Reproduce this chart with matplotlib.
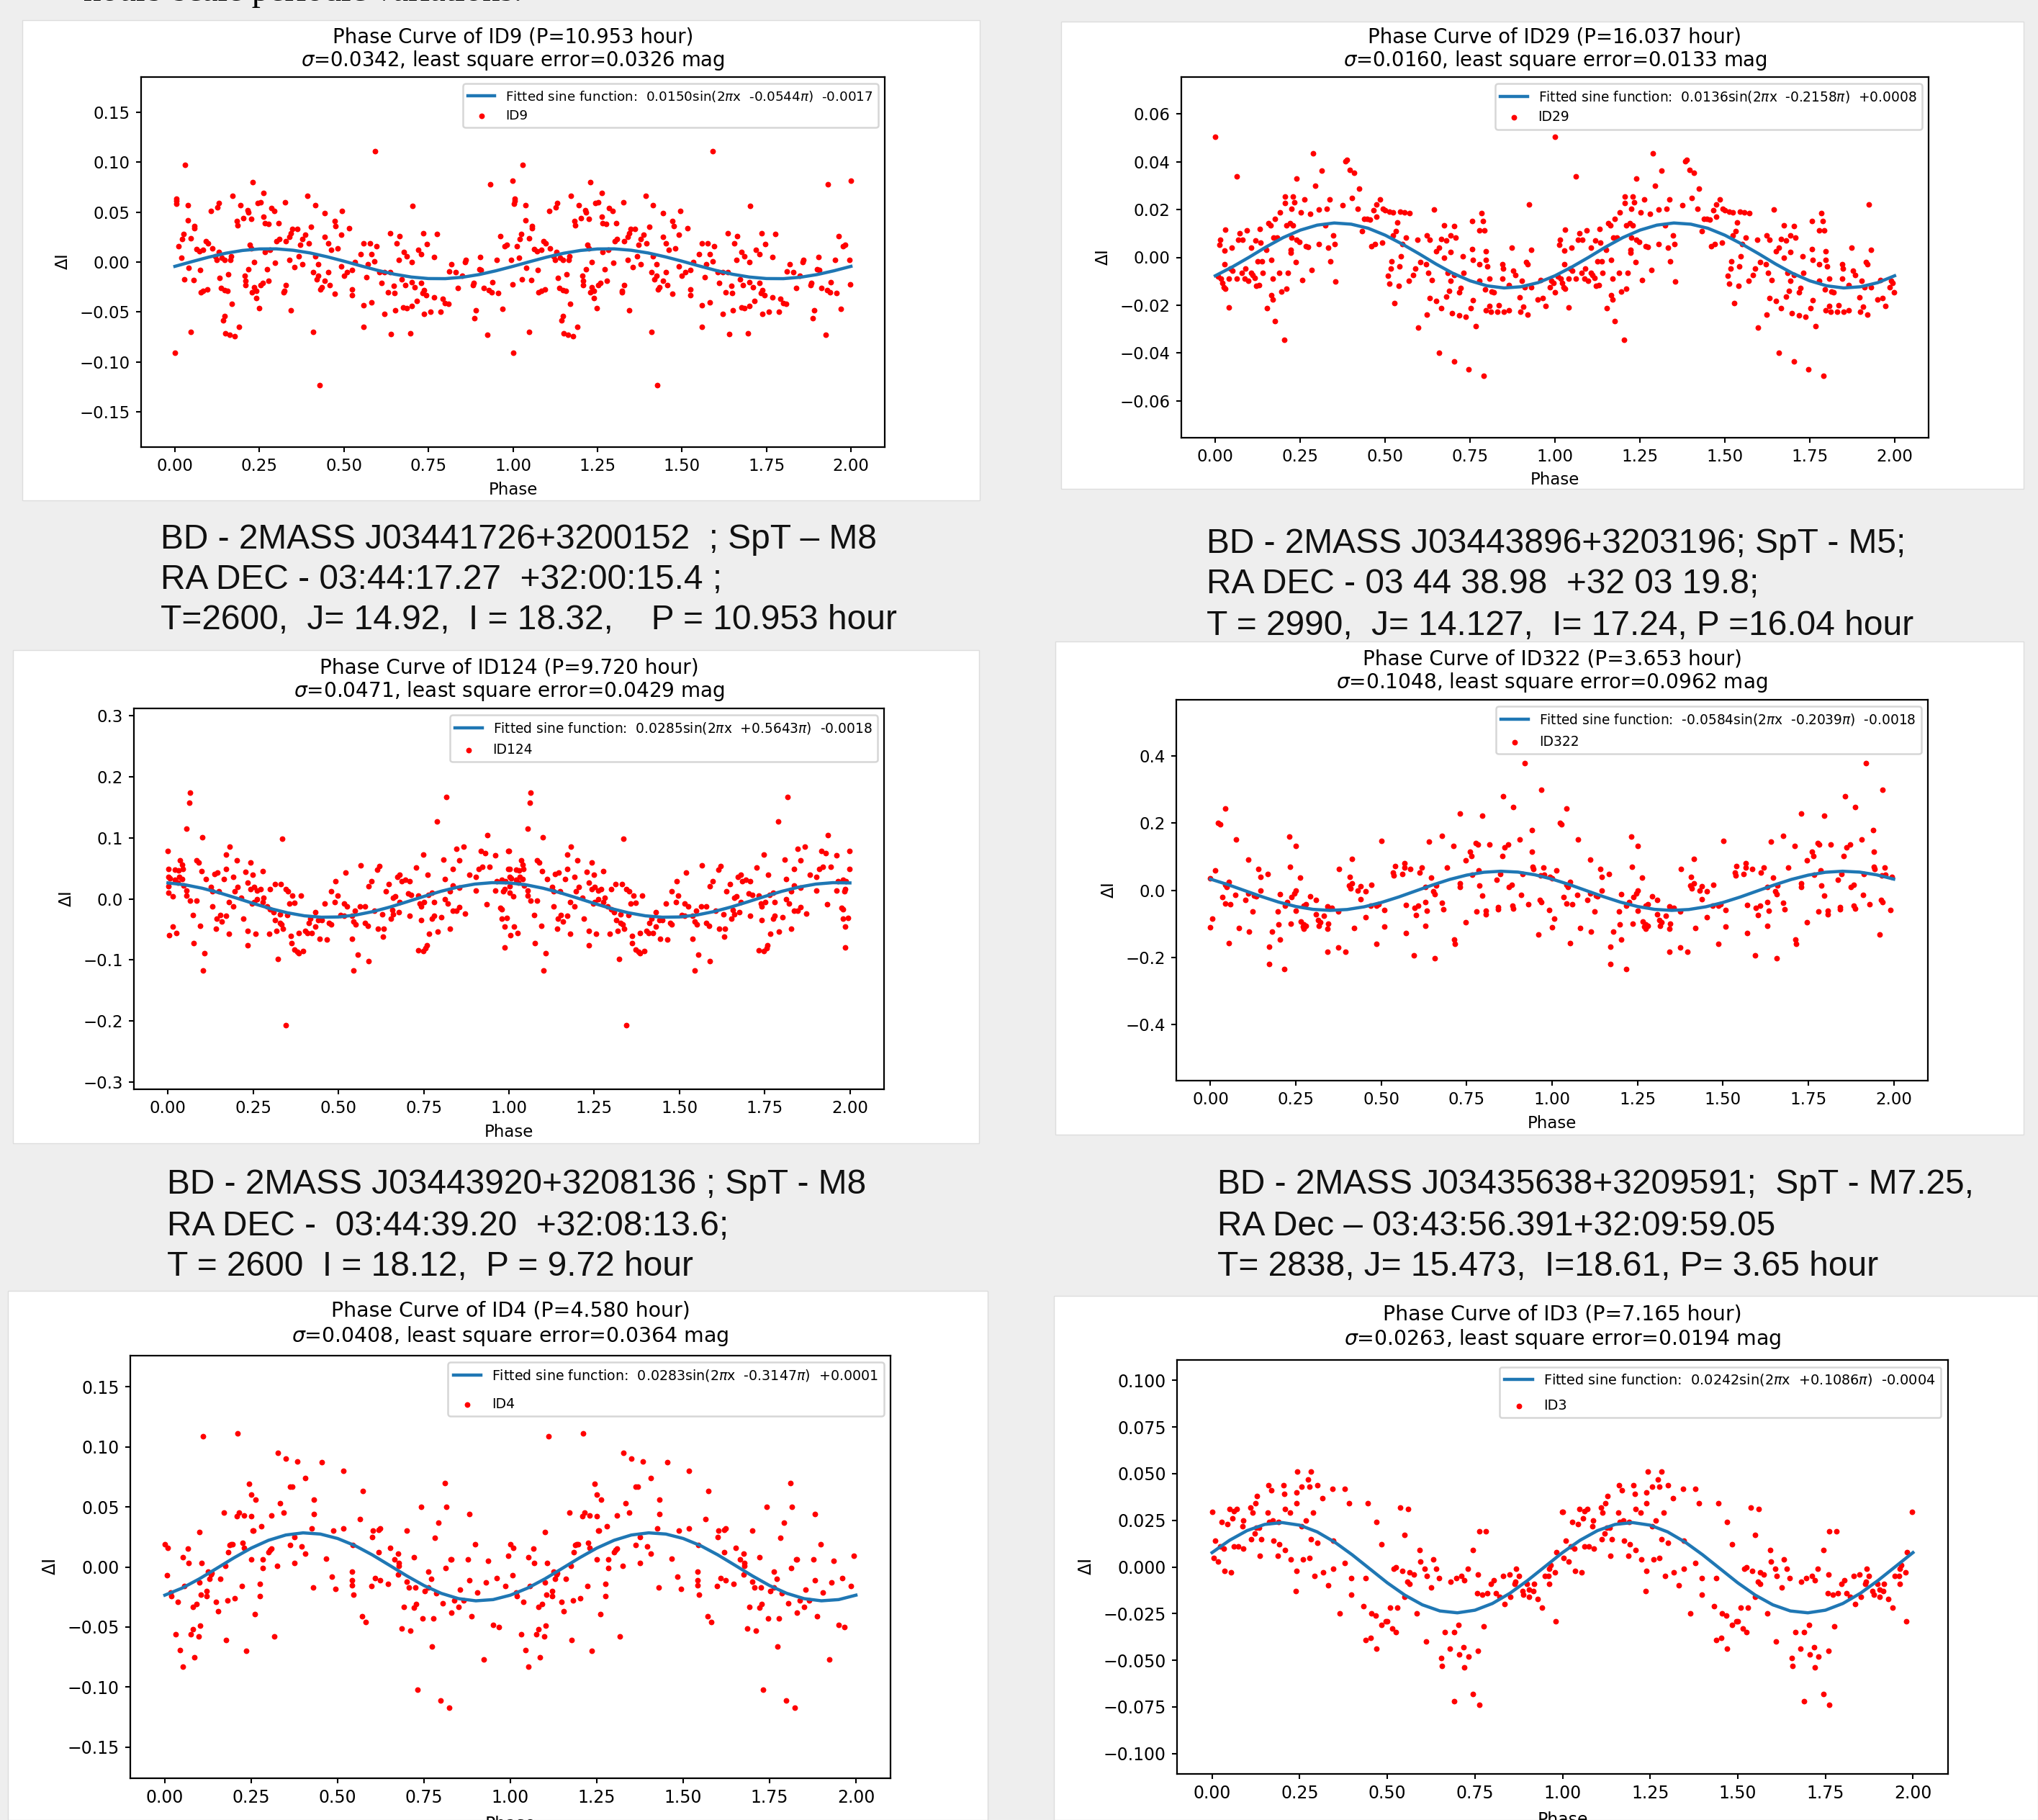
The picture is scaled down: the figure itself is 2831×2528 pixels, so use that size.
import numpy as np
import matplotlib
matplotlib.use('Agg')
import matplotlib.pyplot as plt
from matplotlib.patches import Rectangle

W, H = 2831, 2528

# points, one cycle only: (phase, delta I)
id9_points = [(0.0,-.091),(.005,.063),(.005,.061),(.004,.058),(.029,.097),(.038,.057),(.038,.042),(.057,.036),(.057,.034),(.025,.028),(.021,.023),(.048,.024),(.011,.016),(.063,.013),(.072,.011),(.084,.012),(.091,.021),(.097,.019),(.019,.004),(.040,-.006),(.027,-.017),(.055,-.018),(.074,-.008),(.076,-.030),(.084,-.029),(.095,-.027),(.048,-.070),(.107,.051),(.126,.055),(.131,.059),(.110,.014),(.129,.010),(.120,.006),(.124,.002),(.139,.004),(.148,.002),(.133,-.016),(.137,-.026),(.148,-.028),(.156,-.029),(.158,-.012),(.167,.006),(.164,.002),(.169,-.042),(.147,-.054),(.143,-.058),(.150,-.071),(.162,-.073),(.177,-.074),(.190,-.065),(.171,.066),(.194,.057),(.183,.041),(.185,.037),(.202,.044),(.215,.052),(.217,.050),(.225,.043),(.230,.080),(.221,.017),(.225,.014),(.206,-.014),(.208,-.019),(.208,-.023),(.217,-.007),(.234,0.0),(.234,-.025),(.240,-.029),(.228,-.030),(.240,-.036),(.249,-.046),(.253,-.023),(.259,-.021),(.278,-.019),(.263,.069),(.244,.059),(.253,.060),(.263,.045),(.266,.039),(.276,.038),(.285,.054),(.295,.051),(.266,.010),(.282,.012),(.272,-.007),(.297,-.001),(.301,.021),(.306,.039),(.308,.023),(.327,.060),(.323,-.029),(.322,-.030),(.329,-.023),(.343,-.048),(.329,.021),(.339,.025),(.343,.029),(.348,.033),(.362,.033),(.339,.002),(.354,-.005),(.367,.006),(.377,-.002),(.371,.017),(.377,.023),(.386,.027),(.396,.019),(.392,.066),(.403,.035),(.415,.057),(.443,.049),(.409,-.070),(.428,-.123),(.415,.006),(.424,-.002),(.409,-.010),(.424,-.014),(.419,-.017),(.434,-.025),(.443,-.019),(.430,-.027),(.453,-.010),(.457,-.023),(.443,.025),(.453,.019),(.462,.012),(.481,.014),(.472,.041),(.476,.036),(.495,.051),(.491,.027),(.516,.034),(.472,-.032),(.491,-.004),(.500,-.014),(.510,-.010),(.525,-.008),(.533,0.0),(.525,-.027),(.525,-.033),(.567,-.015),(.558,-.043),(.582,-.040),(.558,-.065),(.550,.008),(.559,.019),(.577,.019),(.582,.008),(.571,-.002),(.596,.016),(.590,.001),(.592,.111),(.605,-.010),(.620,-.010),(.636,-.010),(.611,-.021),(.630,-.030),(.649,-.031),(.647,-.024),(.620,-.052),(.639,-.072),(.651,-.048),(.636,.029),(.664,.026),(.655,.019),(.662,.002),(.677,.010),(.685,.006),(.700,0.0),(.672,-.017),(.681,-.023),(.676,-.045),(.685,-.046),(.700,-.044),(.715,-.039),(.700,-.020),(.710,-.025),(.729,-.021),(.738,-.028),(.696,-.071),(.702,.056),(.719,.012),(.729,.008),(.735,.029),(.746,.018),(.776,.028),(.767,.005),(.733,-.031),(.744,-.033),(.738,-.052),(.757,-.050),(.767,-.035),(.792,-.037),(.799,-.041),(.809,-.042),(.786,-.050),(.811,-.009),(.830,-.010),(.818,-.002),(.849,-.014),(.837,-.026),(.860,.002),(.858,0.0),(.881,-.023),(.883,-.021),(.900,-.007),(.906,-.008),(.904,.005),(.891,-.048),(.887,-.056),(.913,-.026),(.929,-.028),(.938,-.030),(.957,-.031),(.940,-.020),(.953,.002),(.932,.078),(.925,-.073),(.970,-.047),(.963,.026),(.976,.016),(.982,.017),(.995,.002),(.999,.081),(.998,-.022)]

id29_points = [(0.0,.0504),(.008,-.008),(.015,.0074),(.013,.0054),(.017,-.009),(.021,-.0107),(.025,-.0125),(.030,-.013),(.040,-.021),(.030,.0116),(.027,.0028),(.027,-.003),(.049,.004),(.0625,.0338),(.044,-.0047),(.051,-.0055),(.040,-.009),(.0625,-.009),(.068,.0074),(.072,.010),(.081,.0074),(.093,.0113),(.078,-.0064),(.089,-.0047),(.087,-.009),(.097,-.0099),(.106,-.0064),(.110,-.0073),(.116,-.0085),(.106,.004),(.119,.0071),(.131,.0118),(.134,.0061),(.121,-.012),(.129,-.0116),(.140,-.0064),(.125,-.0016),(.138,-.0016),(.150,.0031),(.157,.0144),(.163,.0135),(.176,.0161),(.172,.0083),(.182,.0083),(.153,-.0211),(.165,-.0159),(.169,-.0177),(.176,-.0268),(.169,-.009),(.165,-.0012),(.203,-.0346),(.195,-.0142),(.210,-.013),(.188,-.0064),(.214,-.0064),(.191,.0187),(.206,.0256),(.206,.0227),(.229,.0256),(.233,.023),(.225,.0204),(.210,.0135),(.220,.0144),(.229,.0135),(.225,.0083),(.239,.0074),(.248,.0066),(.222,.0031),(.223,.0019),(.237,-.0021),(.239,.0331),(.252,.0187),(.263,.0242),(.280,.0182),(.267,.0048),(.273,.0045),(.256,-.0095),(.284,-.0054),(.288,.0435),(.295,.030),(.305,.0057),(.305,.0199),(.314,.0364),(.328,.0204),(.337,.0244),(.324,.0135),(.333,.004),(.339,-.0017),(.352,.0057),(.347,.0092),(.354,-.0102),(.375,.0218),(.383,.0403),(.388,.0407),(.396,.0365),(.409,.0355),(.403,.0248),(.424,.0287),(.419,.0204),(.432,.0109),(.438,.0161),(.447,.0161),(.456,.0158),(.460,.0048),(.470,.0057),(.491,.0062),(.466,.0196),(.475,.0222),(.485,.0244),(.475,.017),(.494,.0204),(.5,.0196),(.513,.019),(.523,.0187),(.545,.019),(.557,.0187),(.572,.0184),(.508,-.0076),(.517,-.0047),(.513,-.0111),(.540,-.0118),(.528,-.019),(.519,-.0016),(.542,-.0038),(.547,.0005),(.523,.0092),(.536,.0147),(.532,.0109),(.561,.0083),(.551,.0057),(.570,-.0099),(.583,-.0073),(.589,-.0047),(.598,-.0293),(.595,.0074),(.604,-.0021),(.623,-.0241),(.631,-.0171),(.650,-.0182),(.665,-.0211),(.623,.0092),(.631,.0074),(.644,.0201),(.621,-.003),(.627,-.0064),(.638,-.0094),(.650,.0026),(.659,.004),(.665,.0078),(.674,.0135),(.680,.0071),(.659,-.0398),(.703,-.0436),(.746,-.0468),(.790,-.0497),(.693,.0092),(.703,.013),(.708,.0083),(.674,-.0003),(.693,.0022),(.684,-.0064),(.693,-.0099),(.703,-.0073),(.689,-.0139),(.680,-.0165),(.697,-.0234),(.718,-.0242),(.729,.0005),(.722,-.0128),(.718,-.0147),(.731,-.0064),(.737,-.0249),(.752,-.0211),(.759,-.018),(.767,-.0289),(.756,.0152),(.784,.0184),(.788,.0152),(.778,.0113),(.792,.0113),(.756,.0035),(.759,-.0012),(.778,-.003),(.797,.0026),(.797,-.0012),(.801,-.0038),(.778,-.0099),(.807,-.009),(.794,-.0133),(.813,-.0142),(.820,-.0147),(.807,-.0203),(.797,-.0223),(.811,-.0229),(.830,-.0229),(.835,-.0199),(.850,-.0229),(.864,-.0223),(.845,-.003),(.848,-.0047),(.873,.004),(.883,-.0073),(.877,-.0055),(.864,-.0116),(.845,-.009),(.896,-.0168),(.898,-.0229),(.907,-.0206),(.920,-.0241),(.920,-.003),(.930,.0031),(.915,-.0021),(.924,.0222),(.902,-.0099),(.911,-.0125),(.930,-.0125),(.949,-.0177),(.964,-.0171),(.973,-.0203),(.958,-.0095),(.985,-.0125),(.990,-.0099),(.995,-.0107),(.999,-.0147)]

id124_points = [(0.0,.078),(.002,.049),(.002,.036),(.006,.034),(.002,.021),(.002,.010),(.013,.004),(.004,-.060),(.015,-.046),(.025,-.056),(.064,.174),(.062,.157),(.055,.115),(.100,.101),(.021,.048),(.021,.031),(.030,.047),(.028,.026),(.036,.063),(.041,.056),(.043,.049),(.041,.032),(.032,.036),(.045,.022),(.055,.014),(.055,.005),(.064,-.003),(.083,-.003),(.073,-.026),(.083,.063),(.089,.060),(.098,.046),(.111,.033),(.126,.019),(.130,.012),(.130,-.012),(.075,-.073),(.094,-.044),(.107,-.089),(.102,-.117),(.145,.043),(.136,.041),(.164,.033),(.149,.012),(.171,.049),(.171,.072),(.181,.086),(.201,.063),(.192,.036),(.153,-.027),(.143,-.032),(.158,-.037),(.141,-.049),(.171,-.028),(.179,-.057),(.179,-.005),(.192,-.012),(.196,.012),(.205,.019),(.215,.002),(.220,-.032),(.228,.044),(.243,.059),(.249,.039),(.277,.045),(.234,.026),(.243,.016),(.252,.019),(.262,.014),(.271,.016),(.234,-.052),(.234,-.076),(.256,-.057),(.296,-.057),(.318,-.052),(.322,-.098),(.252,-.005),(.262,-.001),(.277,-.005),(.290,-.012),(.299,-.017),(.309,-.022),(.281,.002),(.247,-.008),(.299,.016),(.313,.024),(.331,.024),(.345,.016),(.352,.012),(.365,.005),(.390,.005),(.335,.098),(.345,-.207),(.314,-.035),(.328,-.039),(.333,-.042),(.328,-.025),(.350,-.026),(.356,-.008),(.371,-.006),(.337,-.049),(.360,-.061),(.362,-.073),(.371,-.083),(.379,-.087),(.384,-.089),(.397,-.085),(.384,-.056),(.403,-.052),(.412,-.039),(.418,-.032),(.431,-.022),(.409,-.056),(.422,-.056),(.441,-.035),(.450,-.035),(.444,-.066),(.431,-.045),(.465,-.067),(.460,-.008),(.478,.012),(.492,.029),(.497,.005),(.490,-.005),(.507,-.026),(.520,.043),(.516,-.028),(.539,-.066),(.539,-.028),(.478,-.042),(.473,-.039),(.516,-.008),(.525,-.012),(.548,-.020),(.544,-.037),(.550,-.042),(.544,-.117),(.556,-.092),(.589,-.102),(.565,.055),(.563,-.012),(.578,-.012),(.578,-.039),(.586,-.044),(.606,-.020),(.589,.021),(.597,.029),(.614,.048),(.621,.054),(.616,-.049),(.629,-.025),(.633,-.049),(.631,-.062),(.638,.012),(.648,.024),(.661,.002),(.657,-.018),(.653,-.033),(.667,.004),(.680,-.005),(.676,-.022),(.661,-.025),(.672,.036),(.680,.039),(.685,.029),(.695,.031),(.708,.029),(.704,.009),(.713,.007),(.708,-.028),(.727,.051),(.733,.005),(.738,-.008),(.742,-.012),(.751,-.005),(.748,.072),(.761,.039),(.764,.007),(.780,-.005),(.774,.010),(.733,-.084),(.748,-.085),(.759,-.076),(.755,-.081),(.742,-.035),(.766,-.057),(.774,-.032),(.780,-.028),(.791,-.054),(.802,-.030),(.789,.127),(.817,.167),(.808,.064),(.812,.033),(.827,.012),(.812,-.001),(.821,-.008),(.836,.049),(.827,-.049),(.846,.082),(.855,.063),(.868,.085),(.836,.022),(.855,.018),(.883,.039),(.846,-.020),(.836,-.020),(.872,-.024),(.855,-.013),(.902,.036),(.917,.078),(.911,.049),(.921,.053),(.930,.075),(.936,.104),(.934,-.009),(.943,.053),(.960,.071),(.902,.014),(.960,.014),(.964,.029),(.979,.031),(.989,.029),(.998,.049),(.998,.079),(.975,-.015),(.983,.012),(.979,-.032),(.994,-.031),(.987,-.080),(.987,-.045),(.979,-.017),(.987,.016)]

id322_points = [(0.0,.036),(0.0,-.111),(.006,-.084),(.013,.060),(.023,.201),(.028,.196),(.043,.244),(.043,.017),(.047,.009),(.053,.025),(.034,-.020),(.043,-.040),(.058,-.042),(.053,-.157),(.075,.151),(.073,-.015),(.083,-.112),(.103,-.028),(.111,.091),(.111,-.010),(.113,-.123),(.124,-.063),(.128,-.016),(.133,-.019),(.141,.063),(.146,.040),(.146,0.0),(.167,.049),(.171,-.169),(.171,-.220),(.180,-.123),(.197,-.064),(.199,-.102),(.203,-.012),(.203,-.148),(.216,-.236),(.218,-.047),(.225,-.035),(.231,.159),(.233,.070),(.235,-.099),(.238,-.020),(.246,-.010),(.250,-.001),(.250,.132),(.250,-.062),(.263,.037),(.265,-.093),(.270,-.109),(.274,-.115),(.274,-.102),(.280,-.106),(.274,-.047),(.280,-.041),(.293,-.019),(.308,-.028),(.308,-.072),(.315,-.090),(.317,-.106),(.321,-.096),(.332,-.077),(.343,-.049),(.356,-.052),(.345,-.100),(.343,-.115),(.343,-.184),(.375,-.063),(.375,-.170),(.377,.064),(.396,-.183),(.407,.040),(.405,.015),(.415,.021),(.409,.006),(.415,.093),(.420,-.112),(.432,0.0),(.439,.012),(.439,-.026),(.454,-.004),(.454,-.081),(.471,.017),(.469,-.047),(.486,-.047),(.493,-.041),(.486,-.159),(.501,.148),(.508,-.059),(.508,-.109),(.535,.052),(.537,.044),(.540,.073),(.561,.049),(.567,.080),(.567,.068),(.572,-.044),(.572,-.127),(.585,.064),(.597,-.052),(.595,-.195),(.602,-.074),(.608,-.047),(.612,.052),(.619,.067),(.630,.009),(.630,-.035),(.630,-.106),(.634,-.062),(.640,.144),(.647,.037),(.657,-.012),(.660,.015),(.653,-.004),(.657,-.204),(.677,.163),(.677,-.037),(.681,-.056),(.692,.067),(.711,.132),(.713,-.148),(.715,-.160),(.730,.228),(.730,.021),(.730,.009),(.747,.089),(.747,-.096),(.760,.114),(.764,.101),(.767,.046),(.777,.141),(.782,.137),(.779,-.063),(.786,.058),(.788,.015),(.796,.222),(.796,-.016),(.807,-.062),(.807,-.072),(.816,.137),(.837,.031),(.842,-.057),(.842,-.051),(.848,.049),(.854,.101),(.857,.280),(.861,.128),(.872,.136),(.874,.009),(.882,.017),(.884,-.047),(.887,-.054),(.887,.247),(.906,.151),(.910,-.015),(.913,.049),(.919,.379),(.930,-.041),(.940,.180),(.942,.114),(.943,.069),(.945,.064),(.959,-.133),(.964,-.028),(.968,-.035),(.966,.044),(.976,.046),(.968,.299),(.974,.067),(.991,-.059),(.994,.040)]

id4_points = [(0.0,.019),(.009,.016),(.007,-.007),(.017,-.021),(.019,-.024),(.037,-.029),(.032,-.056),(.043,-.069),(.052,.008),(.056,-.016),(.052,-.083),(.067,.015),(.069,.003),(.076,-.056),(.082,-.033),(.082,-.052),(.091,-.031),(.086,-.075),(.097,-.058),(.100,.029),(.100,-.013),(.106,.003),(.104,-.023),(.102,-.049),(.110,.109),(.121,-.020),(.121,-.024),(.126,-.004),(.136,-.005),(.130,-.010),(.134,-.006),(.147,-.029),(.154,-.037),(.160,-.010),(.171,.045),(.175,.001),(.178,-.061),(.184,.012),(.182,-.028),(.191,.019),(.195,.019),(.188,.018),(.203,-.026),(.208,.042),(.214,.045),(.210,.111),(.223,-.016),(.225,.020),(.229,.043),(.230,.016),(.236,-.070),(.243,.069),(.251,.060),(.251,.042),(.251,.006),(.255,.030),(.257,.030),(.262,.056),(.260,-.039),(.279,.034),(.275,-.014),(.275,-.024),(.283,.006),(.284,-.001),(.299,.012),(.305,.014),(.309,.015),(.309,.043),(.316,-.058),(.327,.095),(.325,.001),(.333,.053),(.344,.045),(.349,.090),(.362,.067),(.368,.067),(.362,.018),(.374,.025),(.374,.003),(.383,.088),(.396,.017),(.407,.011),(.407,.074),(.424,.032),(.431,.056),(.431,.044),(.429,-.017),(.455,.087),(.467,.007),(.483,-.008),(.487,.030),(.493,-.018),(.517,.032),(.517,.080),(.541,-.004),(.543,.018),(.541,-.011),(.541,-.015),(.546,-.023),(.565,.040),(.571,-.041),(.582,-.046),(.573,.063),(.599,.025),(.597,-.016),(.602,.030),(.608,-.009),(.619,.031),(.623,.032),(.619,.012),(.623,-.011),(.645,-.014),(.652,.016),(.664,.006),(.675,.011),(.678,.003),(.678,.001),(.675,-.006),(.686,-.051),(.691,-.033),(.699,.030),(.699,-.012),(.706,-.017),(.710,-.053),(.721,.008),(.725,-.017),(.721,-.034),(.727,-.031),(.732,-.102),(.742,.050),(.745,-.043),(.753,-.020),(.762,-.004),(.762,-.017),(.771,-.010),(.777,-.043),(.773,-.066),(.781,.024),(.786,-.022),(.792,.037),(.797,-.111),(.805,-.030),(.810,.070),(.814,.050),(.812,-.001),(.822,-.117),(.827,.006),(.829,.006),(.829,-.038),(.838,-.028),(.851,-.033),(.855,-.019),(.864,-.028),(.881,.044),(.877,.006),(.881,-.011),(.887,-.041),(.898,.019),(.905,-.021),(.922,-.077),(.935,.005),(.950,-.048),(.961,-.009),(.967,-.050),(.929,-.013),(.985,-.016),(.994,.009)]

id3_points = [(0.0,.0295),(.004,.005),(.009,.014),(.018,.003),(.024,.011),(.033,.010),(.027,.024),(.035,-.002),(.044,.023),(.049,.031),(.055,-.003),(.059,.026),(.062,.030),(.071,.031),(.062,.011),(.075,.011),(.090,.010),(.088,.025),(.086,.022),(.110,.032),(.115,.029),(.123,.034),(.112,.015),(.121,.018),(.126,.021),(.134,.021),(.128,.038),(.136,.006),(.141,.015),(.161,.044),(.170,.041),(.159,.029),(.163,.024),(.174,.025),(.190,.024),(.176,.014),(.187,.006),(.192,.012),(.203,.044),(.207,.039),(.209,.031),(.209,.009),(.223,.029),(.225,.004),(.240,.040),(.244,.051),(.240,.034),(.240,-.002),(.238,-.013),(.256,.043),(.255,.022),(.260,.004),(.267,.025),(.273,.047),(.277,.043),(.282,.051),(.277,.005),(.282,.015),(.288,.029),(.293,-.005),(.300,.044),(.300,.013),(.315,.037),(.317,-.003),(.331,-.010),(.344,.042),(.346,.014),(.346,-.001),(.364,-.025),(.379,.042),(.379,.002),(.390,.034),(.397,-.006),(.397,-.015),(.432,-.021),(.438,-.039),(.438,-.006),(.445,.034),(.454,-.025),(.452,-.038),(.469,.024),(.469,-.044),(.467,-.026),(.484,.012),(.484,-.031),(.496,-.029),(.5,-.029),(.509,-.022),(.515,-.033),(.524,-.035),(.518,-.001),(.524,0.0),(.529,-.022),(.537,.032),(.542,-.002),(.549,.017),(.549,-.016),(.560,.031),(.557,-.008),(.564,-.009),(.564,-.003),(.575,-.004),(.584,-.025),(.592,.009),(.595,.003),(.610,-.040),(.606,-.001),(.612,-.005),(.626,-.011),(.632,.004),(.639,-.001),(.648,-.006),(.654,-.049),(.656,-.053),(.665,-.035),(.678,-.044),(.681,-.008),(.690,-.035),(.690,-.072),(.696,-.006),(.703,-.031),(.705,-.047),(.711,-.005),(.720,-.054),(.718,-.043),(.720,-.007),(.729,-.001),(.731,-.048),(.745,-.068),(.745,.009),(.758,-.045),(.756,-.014),(.758,-.004),(.762,.019),(.762,-.074),(.771,-.015),(.775,-.032),(.782,.019),(.786,-.014),(.795,-.009),(.804,-.007),(.811,-.014),(.820,-.016),(.830,-.005),(.835,-.020),(.848,-.004),(.852,-.016),(.864,-.009),(.866,-.008),(.868,-.001),(.875,-.005),(.885,-.013),(.888,-.015),(.899,-.009),(.905,-.012),(.905,-.016),(.916,-.013),(.918,-.009),(.930,-.017),(.941,-.022),(.949,-.005),(.960,-.005),(.963,-.009),(.963,-.001),(.967,.001),(.978,-.003),(.980,-.029),(.982,.008),(.998,.0295)]

# fitted curves read every 0.05 in phase over one cycle
id9_fit = [-.0043,.0004,.0049,.0088,.0116,.0131,.0132,.0118,.0091,.0053,.0009,-.0038,-.0083,-.0122,-.0150,-.0165,-.0166,-.0152,-.0125,-.0087]
id29_fit = [-.0077,-.0040,.0001,.0044,.0083,.0114,.0135,.0144,.0139,.0122,.0093,.0056,.0015,-.0028,-.0067,-.0098,-.0119,-.0128,-.0123,-.0106]
id124_fit = [.0261,.0230,.0174,.0100,.0014,-.0075,-.0159,-.0228,-.0278,-.0301,-.0297,-.0266,-.0210,-.0136,-.0050,.0039,.0123,.0192,.0242,.0265]
id322_fit = [.0331,.0170,-.0011,-.0191,-.0356,-.0486,-.0571,-.0602,-.0576,-.0495,-.0367,-.0206,-.0025,.0155,.0320,.0450,.0535,.0566,.0540,.0459]
id4_fit = [-.0235,-.0176,-.0099,-.0012,.0076,.0157,.0222,.0266,.0284,.0274,.0237,.0178,.0101,.0014,-.0074,-.0155,-.0220,-.0264,-.0282,-.0272]
id3_fit = [.0077,.0143,.0195,.0228,.0238,.0224,.0188,.0133,.0065,-.0010,-.0085,-.0151,-.0203,-.0236,-.0246,-.0232,-.0196,-.0141,-.0073,.0002]

fit_phase = np.arange(41) * 0.05
phase_ticks = [0, .25, .5, .75, 1, 1.25, 1.5, 1.75, 2]

panels = [
    dict(name='ID9', period='10.953', sigma='0.0342', err='0.0326', points=id9_points, fit=id9_fit,
         fit_label='0.0150sin($2\\pi$x  -0.0544$\\pi$)  -0.0017', ylim=.185, yticks=[-.15, -.1, -.05, 0, .05, .1, .15], yfmt='%.2f',
         box=(31, 28, 1361, 695), axes=(196, 107, 1229, 621), fs=1.0, title_fs=19.8, title_pad=10.5, title_sp=1.12,
         leg_fs=13.25, leg_sp=0.45, xpad=7),
    dict(name='ID29', period='16.037', sigma='0.0160', err='0.0133', points=id29_points, fit=id29_fit,
         fit_label='0.0136sin($2\\pi$x  -0.2158$\\pi$)  +0.0008', ylim=.0755, yticks=[-.06, -.04, -.02, 0, .02, .04, .06], yfmt='%.2f',
         box=(1474, 30, 2811, 679), axes=(1641, 107, 2679, 608), fs=1.0, title_fs=19.8, title_pad=10.5, title_sp=1.12,
         leg_fs=13.4, leg_sp=0.45, xpad=6),
    dict(name='ID124', period='9.720', sigma='0.0471', err='0.0429', points=id124_points, fit=id124_fit,
         fit_label='0.0285sin($2\\pi$x  +0.5643$\\pi$)  -0.0018', ylim=.312, yticks=[-.3, -.2, -.1, 0, .1, .2, .3], yfmt='%.1f',
         box=(18, 903, 1360, 1588), axes=(186, 984, 1228, 1513), fs=1.0, title_fs=20.2, title_pad=11.5, title_sp=1.12,
         leg_fs=13.4, leg_sp=0.55, xpad=7),
    dict(name='ID322', period='3.653', sigma='0.1048', err='0.0962', points=id322_points, fit=id322_fit,
         fit_label='-0.0584sin($2\\pi$x  -0.2039$\\pi$)  -0.0018', ylim=.568, yticks=[-.4, -.2, 0, .2, .4], yfmt='%.1f',
         box=(1466, 891, 2811, 1576), axes=(1634, 972, 2678, 1501), fs=1.0, title_fs=20.2, title_pad=11.5, title_sp=1.12,
         leg_fs=13.45, leg_sp=0.6, xpad=7),
    dict(name='ID4', period='4.580', sigma='0.0408', err='0.0364', points=id4_points, fit=id4_fit,
         fit_label='0.0283sin($2\\pi$x  -0.3147$\\pi$)  +0.0001', ylim=.176, yticks=[-.15, -.1, -.05, 0, .05, .1, .15], yfmt='%.2f',
         box=(11, 1793, 1372, 2528), axes=(181, 1883, 1237, 2470), fs=1.03, title_fs=20.4, title_pad=14, title_sp=1.2,
         leg_fs=13.65, leg_sp=1.03, xpad=9),
    dict(name='ID3', period='7.165', sigma='0.0263', err='0.0194', points=id3_points, fit=id3_fit,
         fit_label='0.0242sin($2\\pi$x  +0.1086$\\pi$)  -0.0004', ylim=.111, yticks=[-.1, -.075, -.05, -.025, 0, .025, .05, .075, .1], yfmt='%.3f',
         box=(1464, 1800, 2831, 2528), axes=(1635, 1889, 2706, 2464), fs=1.03, title_fs=20.4, title_pad=15, title_sp=1.2,
         leg_fs=13.85, leg_sp=0.8, xpad=9),
]

captions = [
    (223, [749, 805, 862], ['BD - 2MASS J03441726+3200152  ; SpT \u2013 M8', 'RA DEC - 03:44:17.27  +32:00:15.4 ;', 'T=2600,  J= 14.92,  I = 18.32,    P = 10.953 hour']),
    (1676, [756, 812, 869], ['BD - 2MASS J03443896+3203196; SpT - M5;', 'RA DEC - 03 44 38.98  +32 03 19.8;', 'T = 2990,  J= 14.127,  I= 17.24, P =16.04 hour']),
    (232, [1646, 1703, 1760], ['BD - 2MASS J03443920+3208136 ; SpT - M8', 'RA DEC -  03:44:39.20  +32:08:13.6;', 'T = 2600  I = 18.12,  P = 9.72 hour']),
    (1691, [1645, 1703, 1760], ['BD - 2MASS J03435638+3209591;  SpT - M7.25,', 'RA Dec \u2013 03:43:56.391+32:09:59.05', 'T= 2838, J= 15.473,  I=18.61, P= 3.65 hour']),
]

fig = plt.figure(figsize=(W / 100, H / 100), dpi=100, facecolor='#eeeeee')

fig.text(116 / W, 1 - 1 / H, 'hours-scale periodic variations.', family='Liberation Serif',
         fontsize=35, va='baseline', ha='left', zorder=0.5)

for x, ys, lines in captions:
    for y, line in zip(ys, lines):
        fig.text(x / W, 1 - y / H, line, family='Liberation Sans', fontsize=34.45, va='center', ha='left',
                 color='#111111', zorder=0.5)

for p in panels:
    x0, y0, x1, y1 = p['box']
    fig.add_artist(Rectangle((x0 / W, 1 - y1 / H), (x1 - x0) / W, (y1 - y0) / H, transform=fig.transFigure,
                             facecolor='white', edgecolor='#dddddd', lw=1, zorder=1))
    ax0, ay0, ax1, ay1 = p['axes']
    ax = fig.add_axes([ax0 / W, 1 - ay1 / H, (ax1 - ax0) / W, (ay1 - ay0) / H], zorder=2)
    ax.patch.set_facecolor('white')

    pts = np.array(p['points'])
    ph = np.concatenate([pts[:, 0], pts[:, 0] + 1])
    mag = np.concatenate([pts[:, 1], pts[:, 1]])
    fit = p['fit'] + p['fit'] + [p['fit'][0]]

    fs = p['fs']
    ax.plot(fit_phase, fit, color='#1f77b4', lw=3.2,
            label='Fitted sine function:  ' + p['fit_label'])
    # scatter goes under the line, as in the reference
    ax.scatter(ph, mag, s=32, c='r', linewidths=0, label=p['name'])

    ax.set_xlim(-0.1, 2.1)
    ax.set_ylim(-p['ylim'], p['ylim'])
    ax.set_xticks(phase_ticks)
    ax.set_xticklabels(['%.2f' % t for t in phase_ticks])
    ax.set_yticks(p['yticks'])
    ax.set_yticklabels([('%s' % (p['yfmt'] % t)).replace('-', '\u2212') for t in p['yticks']])
    ax.tick_params(labelsize=16.5 * fs, length=5, width=1.5, pad=6)
    for s in ax.spines.values():
        s.set_linewidth(1.6)

    ax.set_xlabel('Phase', fontsize=16.5 * fs, labelpad=p['xpad'])
    ax.set_ylabel('$\\Delta$I', fontsize=16.5 * fs, labelpad=8)
    ax.set_title('Phase Curve of %s (P=%s hour)\n$\\sigma$=%s, least square error=%s mag'
                 % (p['name'], p['period'], p['sigma'], p['err']), fontsize=p['title_fs'], pad=p['title_pad'],
                 linespacing=p['title_sp'])
    leg = ax.legend(loc='upper right', fontsize=p['leg_fs'], labelspacing=p['leg_sp'])
    leg.get_frame().set_linewidth(1.8)

fig.savefig('out.png', dpi=100, facecolor=fig.get_facecolor())
